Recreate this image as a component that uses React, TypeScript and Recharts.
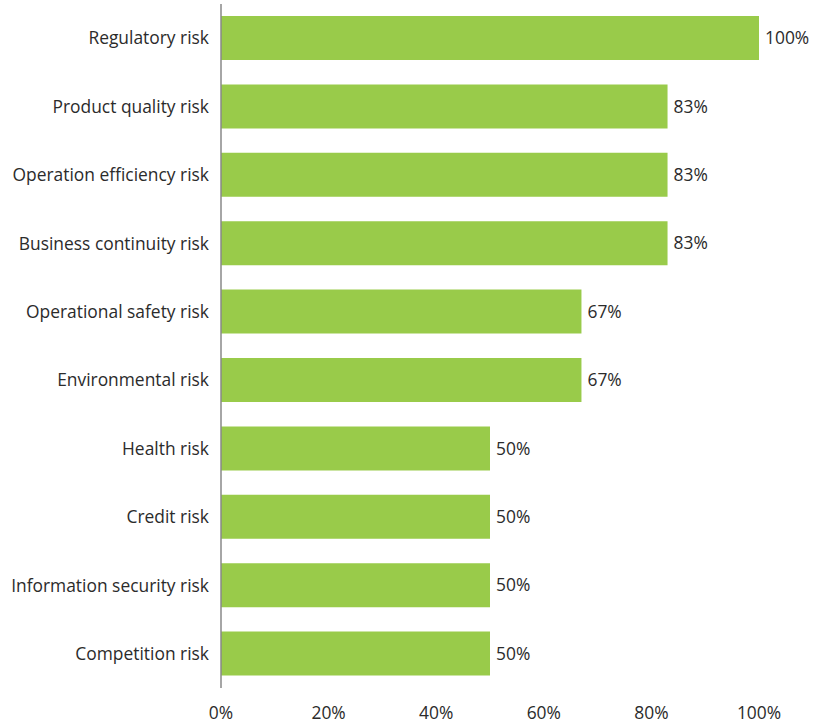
import { Bar, BarChart, LabelList, XAxis, YAxis } from "recharts";

const risks = [
  "Regulatory risk",
  "Product quality risk",
  "Operation efficiency risk",
  "Business continuity risk",
  "Operational safety risk",
  "Environmental risk",
  "Health risk",
  "Credit risk",
  "Information security risk",
  "Competition risk",
];
const shares = [100, 83, 83, 83, 67, 67, 50, 50, 50, 50];
const xTicks = [0, 20, 40, 60, 80, 100];

const data = risks.map((name, i) => ({ name, share: shares[i] }));

const font = { fontSize: 17.4, fill: "#2b2b2b", fontFamily: "'Open Sans', sans-serif" };

export default function App() {
  return (
    <div style={{ position: "absolute", left: 0, top: 0, background: "#fff" }}>
      <BarChart
        width={828}
        height={723}
        data={data}
        layout="vertical"
        margin={{ top: 4, right: 69, bottom: 0, left: 0 }}
        barSize={44}
      >
        <XAxis
          type="number"
          domain={[0, 100]}
          ticks={xTicks}
          tickFormatter={(v) => `${v}%`}
          axisLine={false}
          tickLine={false}
          tickSize={0}
          tickMargin={19}
          height={35}
          tick={font}
          interval={0}
        />
        <YAxis
          type="category"
          dataKey="name"
          width={221}
          axisLine={{ stroke: "#888", strokeWidth: 1.5 }}
          tickLine={false}
          tickSize={0}
          tickMargin={12}
          tick={font}
          interval={0}
        />
        <Bar dataKey="share" fill="#99cb4a" isAnimationActive={false}>
          <LabelList dataKey="share" position="right" offset={6} formatter={(v: number) => `${v}%`} style={font} />
        </Bar>
      </BarChart>
    </div>
  );
}
